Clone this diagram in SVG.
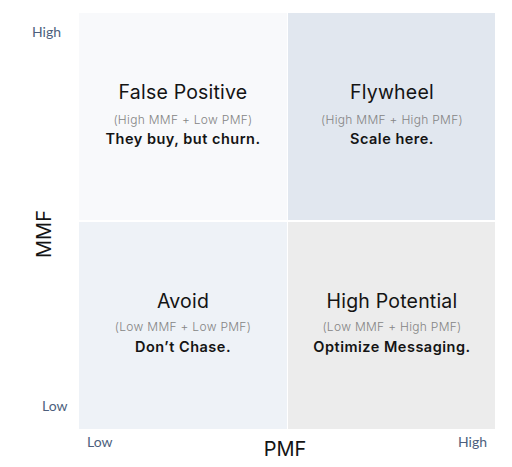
<svg xmlns="http://www.w3.org/2000/svg" width="512" height="467" viewBox="0 0 512 467">
<style>
.title{font-family:Inter,"Noto Sans",sans-serif;font-size:19.5px;fill:#141414;text-anchor:middle;letter-spacing:0.2px}
.sub{font-family:Inter,"Noto Sans",sans-serif;font-size:12px;font-weight:300;fill:#858585;text-anchor:middle;letter-spacing:0.3px}
.act{font-family:Inter,"Noto Sans",sans-serif;font-size:14.5px;font-weight:600;fill:#141414;text-anchor:middle;letter-spacing:0.5px}
.tick{font-family:Lato,"Liberation Sans",sans-serif;font-size:14px;fill:#4d5f7d}
.axis{font-family:Inter,"Noto Sans",sans-serif;font-size:20px;fill:#141414;text-anchor:middle}
</style>
<rect width="512" height="467" fill="#ffffff"/>
<g id="false-positive">
<rect x="79" y="13" width="208" height="207" fill="#f8f9fb"/>
<text class="title" x="183" y="99">False Positive</text>
<text class="sub" x="183" y="124">(High MMF + Low PMF)</text>
<text class="act" x="183" y="144">They buy, but churn.</text>
</g>
<g id="flywheel">
<rect x="288" y="13" width="207" height="207" fill="#e1e7ef"/>
<text class="title" x="392" y="99">Flywheel</text>
<text class="sub" x="392" y="124">(High MMF + High PMF)</text>
<text class="act" x="392" y="144">Scale here.</text>
</g>
<g id="avoid">
<rect x="79" y="222" width="208" height="207" fill="#eef2f7"/>
<text class="title" x="183" y="308">Avoid</text>
<text class="sub" x="183" y="331">(Low MMF + Low PMF)</text>
<text class="act" x="183" y="352">Don’t Chase.</text>
</g>
<g id="high-potential">
<rect x="288" y="222" width="207" height="207" fill="#ececec"/>
<text class="title" x="392" y="308">High Potential</text>
<text class="sub" x="392" y="331">(Low MMF + High PMF)</text>
<text class="act" x="392" y="352">Optimize Messaging.</text>
</g>
<g id="axes">
<text class="tick" x="32" y="37">High</text>
<text class="tick" x="42" y="411">Low</text>
<text class="tick" x="87" y="447">Low</text>
<text class="tick" x="458" y="447">High</text>
<text class="axis" x="285" y="456">PMF</text>
<text class="axis" transform="translate(51 234) rotate(-90)">MMF</text>
</g>
<g id="connectors"/>
</svg>
